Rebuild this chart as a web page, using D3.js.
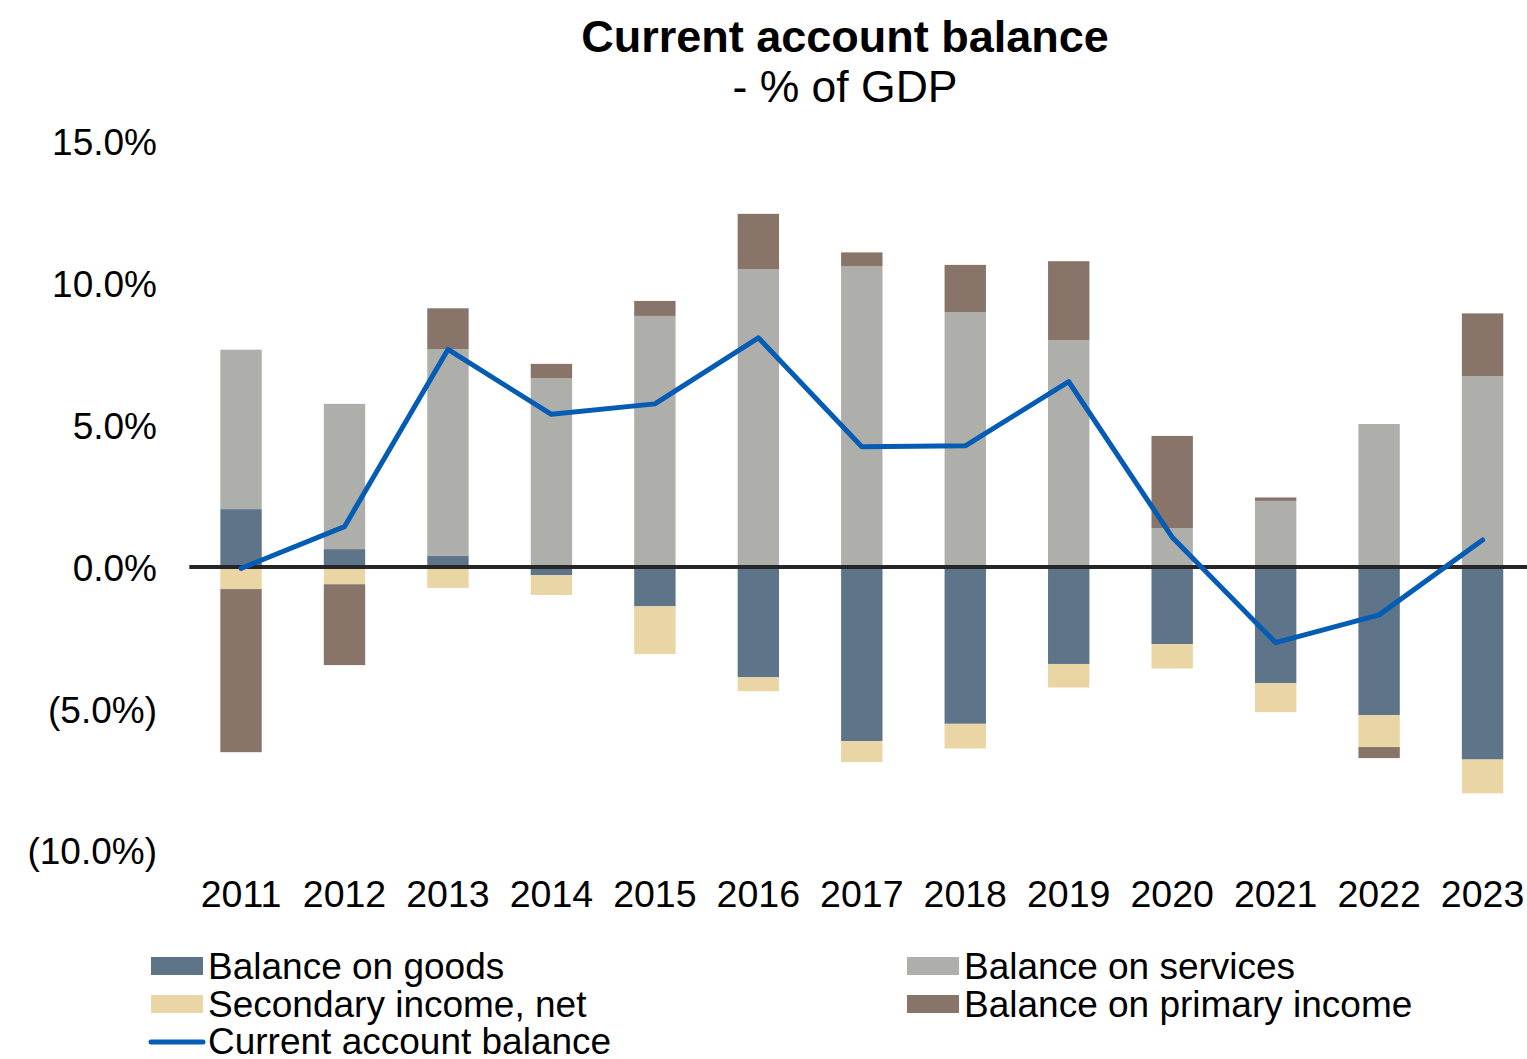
<!DOCTYPE html>
<html>
<head>
<meta charset="utf-8">
<script src="https://cdn.jsdelivr.net/npm/d3@7/dist/d3.min.js"></script>
<style>
  html, body { margin: 0; padding: 0; background: #fff; }
  svg { display: block; }
  text { font-family: "Liberation Sans", Arial, sans-serif; fill: #000; }
</style>
</head>
<body>
<svg id="chart" width="1527" height="1059"></svg>
<script>
// ---- Data (percent of GDP) ----
const years = ["2011","2012","2013","2014","2015","2016","2017","2018","2019","2020","2021","2022","2023"];
const goods      = [2.04, 0.63, 0.39, -0.29, -1.39, -3.89, -6.14, -5.53, -3.42, -2.72, -4.10, -5.22, -6.79];
const services   = [5.62, 5.12, 7.29, 6.66, 8.85, 10.50, 10.61, 8.98, 7.99, 1.37, 2.33, 5.04, 6.73];
const secondary  = [-0.78, -0.61, -0.74, -0.70, -1.68, -0.49, -0.74, -0.87, -0.83, -0.86, -1.02, -1.13, -1.19];
const primary    = [-5.75, -2.85, 1.44, 0.50, 0.53, 1.95, 0.48, 1.67, 2.79, 3.25, 0.12, -0.39, 2.21];
const currentAcc = [-0.05, 1.42, 7.67, 5.38, 5.75, 8.08, 4.24, 4.27, 6.53, 1.05, -2.67, -1.69, 0.95];
const yTicks = [-10, -5, 0, 5, 10, 15];

const seriesKeys  = ["goods", "services", "secondary", "primary"];
const seriesNames = {
  goods: "Balance on goods",
  services: "Balance on services",
  secondary: "Secondary income, net",
  primary: "Balance on primary income"
};
const colors = {
  goods: "#5E7489",
  services: "#AEAFAA",
  secondary: "#EAD5A4",
  primary: "#887468",
  line: "#055CB4"
};

const rows = years.map((y, i) => ({
  year: y, goods: goods[i], services: services[i],
  secondary: secondary[i], primary: primary[i], ca: currentAcc[i]
}));

const svg = d3.select("#chart");
const FONT = '"Liberation Sans", Arial, sans-serif';

// ---- Scales ----
const x = d3.scaleBand()
  .domain(years)
  .range([189.3, 1534.3])
  .paddingInner(0.6)
  .paddingOuter(0.3);

const y = d3.scaleLinear()
  .domain([-10, 15])
  .range([850.6, 141.5]);

// ---- Title ----
svg.append("text")
  .attr("x", 845).attr("y", 52)
  .attr("text-anchor", "middle")
  .style("font-size", "45px").style("font-weight", "bold")
  .text("Current account balance");
svg.append("text")
  .attr("x", 845).attr("y", 102)
  .attr("text-anchor", "middle")
  .style("font-size", "44.5px")
  .text("- % of GDP");

// ---- Stacked bars ----
const stack = d3.stack()
  .keys(seriesKeys)
  .offset(d3.stackOffsetDiverging);
const stacked = stack(rows);

svg.append("g").selectAll("g")
  .data(stacked)
  .join("g")
  .attr("fill", d => colors[d.key])
  .selectAll("rect")
  .data(d => d)
  .join("rect")
  .attr("x", d => x(d.data.year))
  .attr("width", x.bandwidth())
  .attr("y", d => y(Math.max(d[0], d[1])))
  .attr("height", d => Math.abs(y(d[0]) - y(d[1])));

// ---- Y axis (labels only) ----
const fmt = v => v < 0 ? "(" + Math.abs(v).toFixed(1) + "%)" : v.toFixed(1) + "%";
const yAxis = d3.axisLeft(y).tickValues(yTicks).tickFormat(fmt).tickSize(0).tickPadding(0);
const yg = svg.append("g").attr("transform", "translate(157,0)").call(yAxis);
yg.select(".domain").remove();
yg.selectAll("text")
  .style("font-size", "37px").style("font-family", FONT).attr("fill", "#000")
  .attr("dy", "0.36em");

// ---- Zero line ----
svg.append("line")
  .attr("x1", 189.3).attr("x2", 1534)
  .attr("y1", y(0)).attr("y2", y(0))
  .attr("stroke", "#262626").attr("stroke-width", 4);

// ---- X axis labels ----
const xAxis = d3.axisBottom(x).tickSize(0).tickPadding(0);
const xg = svg.append("g").attr("transform", "translate(0,907)").call(xAxis);
xg.select(".domain").remove();
xg.selectAll("text")
  .style("font-size", "37.5px").style("font-family", FONT).attr("fill", "#000")
  .attr("dy", "0").attr("y", 0);

// ---- Current account line ----
const line = d3.line()
  .x(d => x(d.year) + x.bandwidth() / 2)
  .y(d => y(d.ca));
svg.append("path")
  .datum(rows)
  .attr("fill", "none")
  .attr("stroke", colors.line)
  .attr("stroke-width", 5)
  .attr("stroke-linejoin", "round")
  .attr("stroke-linecap", "round")
  .attr("d", line);

// ---- Legend ----
const legendItems = [
  { key: "goods", col: 0, row: 0 },
  { key: "services", col: 1, row: 0 },
  { key: "secondary", col: 0, row: 1 },
  { key: "primary", col: 1, row: 1 }
];
const colX = [151, 907];
const rowY = [966, 1004, 1042];
const lg = svg.append("g");
legendItems.forEach(it => {
  lg.append("rect")
    .attr("x", colX[it.col]).attr("y", rowY[it.row] - 9)
    .attr("width", 52).attr("height", 18)
    .attr("fill", colors[it.key]);
  lg.append("text")
    .attr("x", colX[it.col] + 57).attr("y", rowY[it.row])
    .attr("dy", "0.35em")
    .style("font-size", "37px")
    .text(seriesNames[it.key]);
});
lg.append("line")
  .attr("x1", 151).attr("x2", 203)
  .attr("y1", rowY[2]).attr("y2", rowY[2])
  .attr("stroke", colors.line).attr("stroke-width", 5)
  .attr("stroke-linecap", "round");
lg.append("text")
  .attr("x", 208).attr("y", rowY[2])
  .attr("dy", "0.33em")
  .style("font-size", "37px")
  .text("Current account balance");
</script>
</body>
</html>
